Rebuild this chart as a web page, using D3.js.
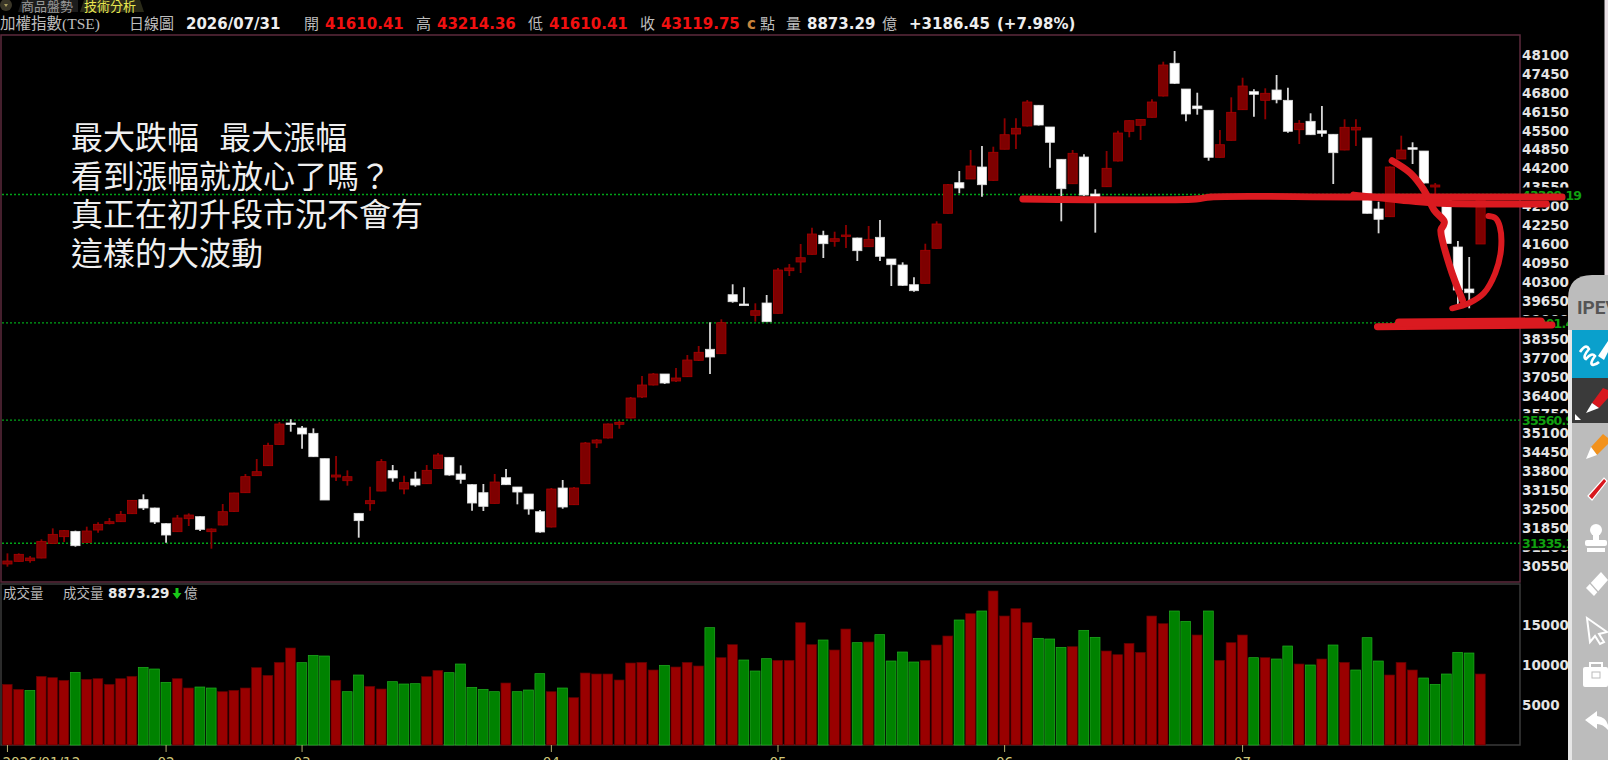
<!DOCTYPE html>
<html>
<head>
<meta charset="utf-8">
<script src="https://cdn.jsdelivr.net/npm/d3@7/dist/d3.min.js"></script>
<style>
  html, body { margin: 0; padding: 0; background: #000; overflow: hidden; }
  svg { display: block; }
  .num { font-family: "DejaVu Sans", sans-serif; font-weight: bold; }
  .cjk { font-family: "Liberation Serif", "Noto Sans CJK TC", serif; }
  .note { font-family: "Noto Sans CJK TC", sans-serif; }
</style>
</head>
<body>
<div id="chart"></div>
<script>
// Daily candles
const opens = [
  30621,30712,30735,30827,31330,31559,31742,31365,31788,32006,
  32074,32349,32830,32544,32006,31731,32177,32246,31731,31960,
  32429,33070,33654,33997,34730,35463,35291,35108,34238,33608,
  33482,32361,32692,33127,33826,33196,33540,33379,33906,34284,
  33711,33345,33070,32704,33585,33265,33024,32417,31892,33231,
  32657,33379,34776,34948,35418,35635,36356,36768,37146,36905,
  37053,37616,37994,37843,39869,39549,39161,39584,39230,40693,
  40992,41256,41909,41702,41895,41816,41517,41840,41095,40889,
  40212,40260,41462,42664,43715,43842,44254,43797,44865,45387,
  45662,46373,45628,44518,43680,44597,43327,43577,44460,45480,
  45686,45961,46692,47815,46932,46349,46201,44587,45171,46222,
  46840,46544,46898,46544,45535,45823,45500,45377,44838,45525,
  45250,42812,42547,44529,44917,44803,43567,43145,41507,40064,41610.41
];
const highs = [
  30987,30987,30895,31468,31845,31788,31765,31903,32051,32200,
  32441,32818,33013,32555,32017,32303,32361,32257,31845,32681,
  33070,33711,34226,34787,35497,35589,35360,35279,34238,34329,
  33837,32361,33276,34226,34020,33654,33791,34020,34432,34284,
  34009,33356,33368,33711,33883,33265,33024,32475,33231,33505,
  33265,34810,34913,35446,35532,36355,37077,37180,37146,37352,
  37798,38107,38921,39024,40226,40123,39573,39858,40786,40923,
  41610,42169,42066,42032,42262,41826,42228,42434,41095,40981,
  40466,41620,42389,43670,44117,44838,44975,44951,45926,45926,
  46555,46383,45628,44518,44838,44690,43488,44803,45500,45858,
  45892,46579,47870,48237,46932,46805,46201,45525,46647,47320,
  46922,46956,47413,46977,45868,46098,46349,45377,45892,45892,
  45250,43062,44271,45329,45102,44803,43704,43145,41713,41163,43214.36
];
const lows = [
  30529,30701,30666,30815,31307,31376,31216,31353,31697,31983,
  32063,32338,32475,31994,31353,31719,31926,31754,31147,31948,
  32418,33059,33643,33986,34719,35165,34581,34295,32818,33471,
  33311,31525,32452,33116,33448,33013,33276,33368,33894,33654,
  33379,32452,32441,32692,33333,32670,32315,31696,31875,32520,
  32647,33368,34604,34931,35267,35618,36321,36751,36802,36871,
  37043,37592,37146,37833,39594,39525,38942,38942,39223,40511,
  40614,41249,41129,41517,41472,41026,41517,41026,40167,40167,
  39972,40253,41455,42657,43351,43842,43234,43783,44862,44872,
  45645,45679,44230,42389,43670,43258,42000,43567,44443,45274,
  45181,45954,46675,47104,45823,46050,44470,44580,45164,46211,
  45981,45892,46441,45432,45044,45353,45294,43670,44827,44975,
  42657,41977,42537,44529,44357,43687,43292,41627,39515,39402,41610.41
];
const closes = [
  30724,30953,30827,31399,31639,31765,31250,31754,31983,32074,
  32326,32807,32544,32063,31616,32200,32303,31811,31822,32418,
  33059,33620,33791,34696,35428,35417,35085,34306,32818,33677,
  33620,32109,32795,34135,33574,33414,33333,33837,34364,33677,
  33528,32715,32601,33436,33345,33093,32509,31720,33196,32578,
  33231,34776,34879,35429,35487,36321,36768,37146,36836,37008,
  37626,37891,37729,38907,39628,39525,39319,38942,40717,40786,
  41139,41953,41620,41792,41919,41380,41771,41187,40899,40191,
  40006,41393,42297,43646,43533,44288,43646,44759,45363,45583,
  46486,45696,45102,43509,44724,43292,43224,44209,45421,45844,
  45885,46486,47757,47128,46074,46256,44587,45020,46132,47035,
  46750,46785,46565,45480,45755,45363,45411,44745,45617,45617,
  42664,42458,44254,44838,44862,43704,43636,41627,40030,39937,43119.75
];
// Volume in 億, with the colour code of each bar (r = up, g = down)
const volumes = [
  7582,6957,6832,8582,8416,8082,9082,8207,8291,7582,
  8291,8582,9707,9499,7832,8291,7124,7249,7124,6665,
  6832,7124,9666,8707,10332,12124,10291,11207,11124,8082,
  6665,8749,7332,6999,7915,7624,7665,8541,9332,9041,
  10124,7207,6957,6665,7749,6665,6874,8916,6665,7124,
  5915,8999,8874,8874,8124,10249,10332,9374,9957,9749,
  10332,9874,14666,10916,12541,10624,9249,10791,10582,10582,
  15291,12541,13124,11874,14499,12791,12874,13791,10499,11624,
  10374,10582,12499,13624,15624,16416,16750,19250,16124,17041,
  15291,13333,13249,12208,12291,14333,13458,11749,11291,12708,
  11582,16124,15166,16750,15458,13749,16750,10582,12791,13749,
  10916,10916,10749,12374,10124,9999,10749,12499,10332,9374,
  13416,10499,8749,10332,9374,8374,7582,8874,11583,11499,8873.29
];
const volumeDirs = (
  'rrgrrrgrrr' + 'rrgggrrggr' + 'rrrrrrgggr' + 'ggrrgggrrg' +
  'ggggrgggrg' + 'rrrrrrrrgr' + 'rrgrrgggrr' + 'rrgrrgrggg' +
  'grrrgrgrrr' + 'rgggrggrrr' + 'rrrggrgrrr' + 'grggrgrgrg' +
  'ggrrrgggggr'
).split('');

const priceTicks = [48100,47450,46800,46150,45500,44850,44200,43550,42900,42250,41600,40950,40300,39650,
  39000,38350,37700,37050,36400,35750,35100,34450,33800,33150,32500,31850,31200,30550];
const volumeTicks = [15000, 10000, 5000];
const levelLines = [43309.19, 38901.4, 35560.9, 31335.1];
const dateTickBars = [0, 14, 26, 48, 68, 88, 109];
const dateTickLabels = ['2026/01/12', '02', '03', '04', '05', '06', '07'];

const noteLines = ['最大跌幅  最大漲幅', '看到漲幅就放心了嗎？', '真正在初升段市況不會有', '這樣的大波動'];

// Hand drawn red marks, as [bar number, price]
const inkStrokes = [
  { w: 6.8, pts: [[89.6,43155],[104.9,43155],[106.2,43224],[118.5,43224],[137.2,43224]] },
  { w: 6.8, pts: [[118.8,43292],[122.9,43121],[125.9,43018],[135.8,42983]] },
  { w: 7, pts: [[122.2,44470],[123.8,44048],[125,43464],[125.9,42777],[126.8,42375],[126.7,42228],[126.5,42090],[127.3,40830],[128.4,39687]] },
  { w: 6, pts: [[127.5,39402],[129,39584],[130.3,39927],[131.3,40614],[131.8,41404],[131.7,42204],[131.3,42503],[130.7,42571]] },
  { w: 7, pts: [[120.9,38770],[136.3,38828]] },
  { w: 8, pts: [[122.8,38914],[135.3,38948]] }
];

let width = 1608, height = 760;
let plot = { left: 1, right: 1520, top: 35, bottom: 582, volTop: 584, volBottom: 745 };

let svg = d3.select('#chart').append('svg')
  .attr('width', width)
  .attr('height', height)
  .style('background', '#000');

// Scales
let bars = d3.range(closes.length);
let xScale = d3.scaleBand()
  .domain(bars)
  .range([2.34, 1485.66])
  .paddingInner(0.1)
  .paddingOuter(0);
let cx = i => xScale(i) + xScale.bandwidth() / 2;
let xInk = d3.scaleLinear().domain([0, 130]).range([cx(0), cx(130)]);

let yPrice = d3.scaleLinear().domain([30003, 48787]).range([plot.bottom, plot.top]);
let yVol = d3.scaleLinear().domain([0, 20000]).range([plot.volBottom, plot.volBottom - 160]);

// Panels
svg.append('rect')
  .attr('x', plot.left).attr('y', plot.top)
  .attr('width', plot.right - plot.left).attr('height', plot.bottom - plot.top)
  .attr('fill', 'none').attr('stroke', '#5c2a3c').attr('stroke-width', 1.5);
svg.append('rect')
  .attr('x', plot.left).attr('y', plot.volTop)
  .attr('width', plot.right - plot.left).attr('height', plot.volBottom - plot.volTop)
  .attr('fill', 'none').attr('stroke', '#3a3a3a').attr('stroke-width', 1.5);

// Price axis
let priceAxis = svg.append('g')
  .attr('transform', `translate(${plot.right},0)`)
  .call(d3.axisRight(yPrice).tickValues(priceTicks).tickSize(0).tickPadding(2).tickFormat(d3.format('d')));
priceAxis.select('.domain').remove();
priceAxis.selectAll('text').attr('class', 'num').style('font-size', '13.5px').attr('fill', '#e4e4e4');

// Green level lines with their value boxes
svg.selectAll('.level')
  .data(levelLines)
  .enter().append('line')
    .attr('class', 'level')
    .attr('x1', plot.left + 1).attr('x2', plot.right)
    .attr('y1', d => yPrice(d)).attr('y2', d => yPrice(d))
    .attr('stroke', '#00a418').attr('stroke-width', 1.4).attr('stroke-dasharray', '2 2');
svg.selectAll('.levelBox')
  .data(levelLines)
  .enter().append('rect')
    .attr('x', plot.right + 1).attr('width', 62)
    .attr('y', d => yPrice(d) - 7).attr('height', 14)
    .attr('fill', '#000');
svg.selectAll('.levelText')
  .data(levelLines)
  .enter().append('text')
    .attr('class', 'num')
    .attr('x', plot.right + 2).attr('y', d => yPrice(d) + 5)
    .style('font-size', '12.5px').style('letter-spacing', '-0.8px').attr('fill', '#10a010')
    .text(d => d);

// Candles
let candle = svg.selectAll('.candle')
  .data(bars)
  .enter().append('g')
    .attr('class', 'candle');
candle.append('line')
  .attr('x1', cx).attr('x2', cx)
  .attr('y1', i => yPrice(highs[i]))
  .attr('y2', i => yPrice(lows[i]))
  .attr('stroke', i => closes[i] >= opens[i] ? '#8c0000' : '#d8d8d8')
  .attr('stroke-width', 1.8);
candle.append('rect')
  .attr('x', i => cx(i) - 4.6)
  .attr('width', 9.2)
  .attr('y', i => yPrice(Math.max(opens[i], closes[i])))
  .attr('height', i => Math.max(1.6, Math.abs(yPrice(opens[i]) - yPrice(closes[i]))))
  .attr('fill', i => closes[i] >= opens[i] ? '#7e0000' : '#fff')
  .attr('stroke', i => closes[i] >= opens[i] ? '#a80000' : '#ddd')
  .attr('stroke-width', 0.8);

// Volume bars
svg.selectAll('.vol')
  .data(bars)
  .enter().append('rect')
    .attr('class', 'vol')
    .attr('x', i => xScale(i))
    .attr('width', xScale.bandwidth() - 0.4)
    .attr('y', i => yVol(volumes[i]))
    .attr('height', i => yVol(0) - yVol(volumes[i]))
    .attr('fill', i => volumeDirs[i] == 'r' ? '#990000' : '#008200')
    .attr('stroke', i => volumeDirs[i] == 'r' ? '#5e0000' : '#1fae1f')
    .attr('stroke-width', 0.7);

// Volume axis
let volAxis = svg.append('g')
  .attr('transform', `translate(${plot.right},0)`)
  .call(d3.axisRight(yVol).tickValues(volumeTicks).tickSize(0).tickPadding(2).tickFormat(d3.format('d')));
volAxis.select('.domain').remove();
volAxis.selectAll('text').attr('class', 'num').style('font-size', '13.5px').attr('fill', '#e4e4e4');

// Date axis, its labels run off the bottom of the window
let dateAxis = svg.append('g')
  .attr('transform', `translate(0,${plot.volBottom})`)
  .call(d3.axisBottom(xScale).tickValues(dateTickBars).tickSize(7).tickPadding(5)
    .tickFormat(i => dateTickLabels[dateTickBars.indexOf(i)]));
dateAxis.select('.domain').remove();
dateAxis.selectAll('line').attr('stroke', '#b8b070');
dateAxis.selectAll('text')
  .style('font-family', '"DejaVu Sans", sans-serif')
  .style('font-size', '13.5px')
  .attr('fill', '#cfc77a');
dateAxis.select('.tick text').attr('text-anchor', 'start').attr('x', -5);

// Top tabs
svg.append('circle').attr('cx', 6).attr('cy', 5).attr('r', 6).attr('fill', '#3a3628');
svg.append('path').attr('d', 'M4 4 L8 4 L6 7 Z').attr('fill', '#a89c60');
svg.append('path').attr('d', 'M18 12 L22 0 L78 0 L78 12 Z').attr('fill', '#1c1c1c');
svg.append('path').attr('d', 'M80 12 L84 0 L140 0 L144 12 Z').attr('fill', '#2a2a18');
svg.append('text').attr('class', 'cjk').attr('x', 21).attr('y', 11).style('font-size', '13px').attr('fill', '#9a9a9a').text('商品盤勢');
svg.append('text').attr('class', 'cjk').attr('x', 84).attr('y', 11).style('font-size', '13px').attr('fill', '#e8e850').text('技術分析');

// Header row
let headerItems = [
  { x: 0,    t: '加權指數(TSE)', c: '#bdbdbd', cjk: true, s: 15.5 },
  { x: 129,  t: '日線圖', c: '#bdbdbd', cjk: true, s: 15 },
  { x: 186,  t: '2026/07/31', c: '#eeeeee' },
  { x: 304,  t: '開', c: '#bdbdbd', cjk: true, s: 15 },
  { x: 325,  t: '41610.41', c: '#f01010' },
  { x: 416,  t: '高', c: '#bdbdbd', cjk: true, s: 15 },
  { x: 437,  t: '43214.36', c: '#f01010' },
  { x: 528,  t: '低', c: '#bdbdbd', cjk: true, s: 15 },
  { x: 549,  t: '41610.41', c: '#f01010' },
  { x: 640,  t: '收', c: '#bdbdbd', cjk: true, s: 15 },
  { x: 661,  t: '43119.75', c: '#f01010' },
  { x: 747,  t: 'c', c: '#c8843c' },
  { x: 760,  t: '點', c: '#bdbdbd', cjk: true, s: 15 },
  { x: 786,  t: '量', c: '#bdbdbd', cjk: true, s: 15 },
  { x: 807,  t: '8873.29', c: '#eeeeee' },
  { x: 882,  t: '億', c: '#bdbdbd', cjk: true, s: 15 },
  { x: 909,  t: '+3186.45', c: '#eeeeee' },
  { x: 997,  t: '(+7.98%)', c: '#eeeeee' }
];
svg.selectAll('.head')
  .data(headerItems)
  .enter().append('text')
    .attr('class', d => d.cjk ? 'cjk' : 'num')
    .attr('x', d => d.x)
    .attr('y', 29)
    .style('font-size', d => (d.s || 15) + 'px')
    .attr('fill', d => d.c)
    .text(d => d.t);

// Volume caption
svg.append('text').attr('class', 'cjk').attr('x', 3).attr('y', 598).style('font-size', '13.5px').attr('fill', '#bdbdbd').text('成交量');
svg.append('text').attr('class', 'cjk').attr('x', 63).attr('y', 598).style('font-size', '13.5px').attr('fill', '#bdbdbd').text('成交量');
svg.append('text').attr('class', 'num').attr('x', 108).attr('y', 598).style('font-size', '13.5px').attr('fill', '#e8e8e8').text('8873.29');
svg.append('path').attr('d', 'M175.5 588 h3 v5 h3 l-4.5 6 l-4.5 -6 h3 z').attr('fill', '#18c818');
svg.append('text').attr('class', 'cjk').attr('x', 184).attr('y', 598).style('font-size', '13.5px').attr('fill', '#bdbdbd').text('億');

// Note over the chart
svg.selectAll('.note')
  .data(noteLines)
  .enter().append('text')
    .attr('class', 'note')
    .attr('x', 71)
    .attr('y', (d, i) => 149 + i * 38.6)
    .style('font-size', '32px')
    .style('white-space', 'pre')
    .style('word-spacing', '3px')
    .attr('fill', '#efefef')
    .text(d => d);

// Red ink
let inkLine = d3.line()
  .x(d => xInk(d[0]))
  .y(d => yPrice(d[1]))
  .curve(d3.curveCatmullRom.alpha(0.5));
svg.selectAll('.ink')
  .data(inkStrokes)
  .enter().append('path')
    .attr('class', 'ink')
    .attr('d', d => inkLine(d.pts))
    .attr('fill', 'none')
    .attr('stroke', '#da1a20')
    .attr('stroke-width', d => d.w)
    .attr('stroke-linecap', 'round')
    .attr('stroke-linejoin', 'round');

// Pen toolbar on the right edge
svg.append('rect').attr('x', 1604.5).attr('y', 0).attr('width', 3.5).attr('height', 280).attr('fill', '#e8dfe4');
let bar = svg.append('g');
bar.append('path')
  .attr('d', 'M1568 760 V299 Q1568 275 1592 275 H1608 V760 Z')
  .attr('fill', '#bcbcbc');
bar.append('rect').attr('x', 1568).attr('y', 330).attr('width', 4).attr('height', 430).attr('fill', '#e6e6e6');
bar.append('text')
  .attr('x', 1577).attr('y', 314)
  .style('font-family', '"Liberation Sans Narrow", "Roboto", sans-serif')
  .style('font-weight', 'bold').style('font-size', '19px')
  .attr('fill', '#555').text('IPEVI');
bar.append('rect').attr('x', 1572).attr('y', 330).attr('width', 36).attr('height', 48).attr('fill', '#0aa0cc');
bar.append('path')
  .attr('d', 'M1580 352 q6 -9 9 -3 q-7 8 -3 10 q6 -7 9 -3 q-6 8 -2 9 q4 -1 6 -3')
  .attr('fill', 'none').attr('stroke', '#fff').attr('stroke-width', 2.6);
bar.append('path').attr('d', 'M1598 356 L1608 341 V352 L1604 360 Z').attr('fill', '#fff');
bar.append('rect').attr('x', 1572).attr('y', 378).attr('width', 36).attr('height', 45).attr('fill', '#3a3a3a');
bar.append('path').attr('d', 'M1592 403 L1603 388 L1608 390 V398 L1599 408 Z').attr('fill', '#d8181e');
bar.append('path').attr('d', 'M1586 413 L1592 403 L1599 408 Z').attr('fill', '#fff');
bar.append('path').attr('d', 'M1575 414 L1581 420 H1575 Z').attr('fill', '#fff');
bar.append('path').attr('d', 'M1591 447 L1603 434 L1608 438 V444 L1597 455 Z').attr('fill', '#f2921d');
bar.append('path').attr('d', 'M1586 459 L1591 447 L1597 455 Z').attr('fill', '#fff');
bar.append('path').attr('d', 'M1588 496 L1604 478 L1607 481 L1592 500 Z').attr('fill', '#d8181e').attr('stroke', '#fff').attr('stroke-width', 1.2);
// stamp
bar.append('circle').attr('cx', 1596).attr('cy', 530).attr('r', 6).attr('fill', '#fff');
bar.append('rect').attr('x', 1593).attr('y', 534).attr('width', 6).attr('height', 7).attr('fill', '#fff');
bar.append('rect').attr('x', 1585).attr('y', 540).attr('width', 22).attr('height', 6).attr('rx', 2).attr('fill', '#fff');
bar.append('rect').attr('x', 1587).attr('y', 548).attr('width', 18).attr('height', 4).attr('fill', '#fff');
// eraser
bar.append('path').attr('d', 'M1586 588 L1601 572 L1608 580 L1594 596 Z').attr('fill', '#fff');
bar.append('path').attr('d', 'M1590 583 L1598 592').attr('stroke', '#bcbcbc').attr('stroke-width', 1.2);
// cursor
bar.append('path').attr('d', 'M1587 618 L1607 632 L1599 634 L1604 642 L1600 644 L1595 636 L1590 642 Z').attr('fill', 'none').attr('stroke', '#fff').attr('stroke-width', 2);
// toolbox
bar.append('rect').attr('x', 1583).attr('y', 667).attr('width', 25).attr('height', 20).attr('rx', 2).attr('fill', '#fff');
bar.append('path').attr('d', 'M1590 667 v-4 h12 v4').attr('fill', 'none').attr('stroke', '#fff').attr('stroke-width', 2);
bar.append('rect').attr('x', 1592).attr('y', 672).attr('width', 8).attr('height', 6).attr('fill', 'none').attr('stroke', '#bcbcbc');
// back arrow
bar.append('path').attr('d', 'M1585 720 L1597 711 V716 Q1606 717 1608 725 V730 Q1603 724 1597 724 V729 Z').attr('fill', '#fff');
</script>
</body>
</html>
